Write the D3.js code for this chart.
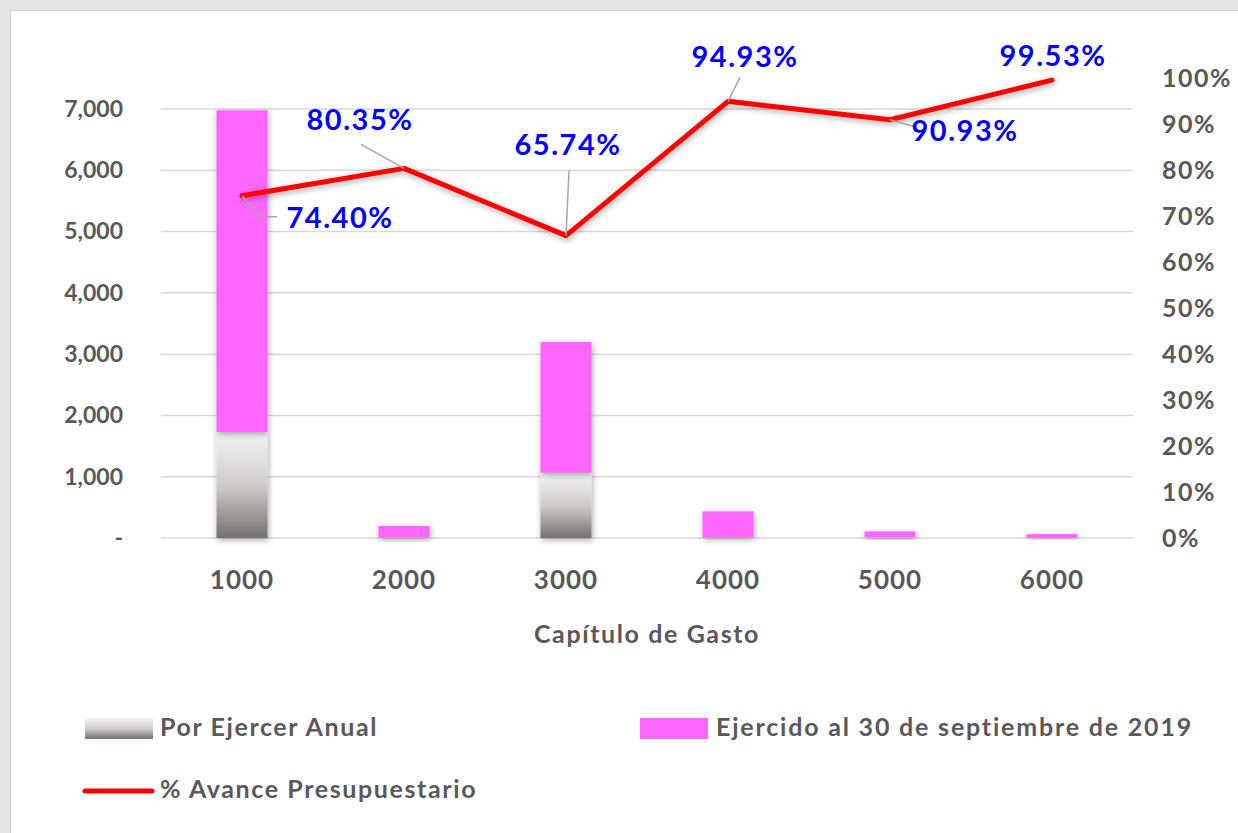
<!DOCTYPE html>
<html>
<head>
<meta charset="utf-8">
<script src="https://cdn.jsdelivr.net/npm/d3@7"></script>
<style>
  body { margin: 0; background: #e4e4e4; }
  svg { display: block; }
  text { font-family: Lato, "Open Sans", sans-serif; font-weight: bold; }
</style>
</head>
<body>
<div id="chart"></div>
<script>
// datos
const capitulos = ["1000", "2000", "3000", "4000", "5000", "6000"];
const porEjercer = [1730, 6, 1065, 10, 8, 1];
const ejercido = [5250, 190, 2135, 424, 100, 62];
const avance = [74.40, 80.35, 65.74, 94.93, 90.93, 99.53];
const leftTicks = [0, 1000, 2000, 3000, 4000, 5000, 6000, 7000];
const rightTicks = [0, 10, 20, 30, 40, 50, 60, 70, 80, 90, 100];
// posicion de etiquetas relativa al punto [dx, dy] y quiebre de la guia
const labelPos = [
  { dx: 98, dy: 25, lead: [[0, 0], [18, 21], [35, 21]] },
  { dx: -44, dy: -46, lead: [[0, 0], [-43, -24]] },
  { dx: 2, dy: -88, lead: [[0, 0], [3, -65]] },
  { dx: 17, dy: -42, lead: [[0, 0], [12, -24]] },
  { dx: 75, dy: 14, lead: [[0, 0], [25, 7]] },
  { dx: 1, dy: -22, lead: null }
];

const W = 1238, H = 833;
const margins = { top: 78, right: 105, bottom: 295, left: 161 };
const plotBottom = 538;
const gris = "#595959";

const svg = d3.select("#chart").append("svg")
  .attr("width", W).attr("height", H);

const defs = svg.append("defs");
const grad = defs.append("linearGradient")
  .attr("id", "grisGrad").attr("x1", 0).attr("y1", 0).attr("x2", 0).attr("y2", 1);
grad.append("stop").attr("offset", "0%").attr("stop-color", "#f4f4f4");
grad.append("stop").attr("offset", "50%").attr("stop-color", "#cfcccc");
grad.append("stop").attr("offset", "100%").attr("stop-color", "#767171");

const shadow = defs.append("filter").attr("id", "sombra")
  .attr("x", "-30%").attr("y", "-30%").attr("width", "160%").attr("height", "160%");
shadow.append("feDropShadow").attr("dx", 1).attr("dy", 2)
  .attr("stdDeviation", 3).attr("flood-color", "#000").attr("flood-opacity", 0.35);

// panel blanco
svg.append("rect")
  .attr("x", 10.5).attr("y", 10.5).attr("width", W).attr("height", H)
  .attr("fill", "#fff").attr("stroke", "#d0d0d0");

const x_scale = d3.scaleBand()
  .domain(capitulos)
  .range([margins.left, W - margins.right])
  .paddingInner(0.685).paddingOuter(0.3425);

const y_scale = d3.scaleLinear().domain([0, 7000]).range([plotBottom, 109]);
const y2_scale = d3.scaleLinear().domain([0, 100]).range([plotBottom, margins.top]);

const estiloTexto = (sel, size, spacing) => sel
  .attr("font-size", size).attr("fill", gris)
  .attr("letter-spacing", spacing)
  .attr("font-family", "Lato, sans-serif").attr("font-weight", "bold");

// rejilla
svg.append("g").selectAll("line")
  .data(leftTicks)
  .join("line")
  .attr("x1", margins.left).attr("x2", W - margins.right)
  .attr("y1", d => y_scale(d)).attr("y2", d => y_scale(d))
  .attr("stroke", "#d9d9d9").attr("stroke-width", 1.5);

// eje izquierdo
const y_axis = d3.axisLeft(y_scale).tickValues(leftTicks).tickSize(0).tickPadding(0)
  .tickFormat(d => d === 0 ? "-" : d3.format(",")(d));
svg.append("g").attr("class", "y axis")
  .attr("transform", "translate(123,0)")
  .call(y_axis)
  .call(g => g.select(".domain").remove())
  .selectAll("text").call(estiloTexto, 23, 0);

// eje derecho
const y2_axis = d3.axisRight(y2_scale).tickValues(rightTicks).tickSize(0).tickPadding(0)
  .tickFormat(d => d + "%");
svg.append("g").attr("class", "y2 axis")
  .attr("transform", "translate(1162,0)")
  .call(y2_axis)
  .call(g => g.select(".domain").remove())
  .selectAll("text").call(estiloTexto, 25, 1.5);

// eje x
const x_axis = d3.axisBottom(x_scale).tickSize(0).tickPadding(0);
svg.append("g").attr("class", "x axis")
  .attr("transform", `translate(0,${plotBottom + 33})`)
  .call(x_axis)
  .call(g => g.select(".domain").remove())
  .selectAll("text").call(estiloTexto, 26, 1);

svg.append("text")
  .attr("x", (margins.left + W - margins.right) / 2).attr("y", 643)
  .attr("text-anchor", "middle")
  .call(estiloTexto, 25, 1.6)
  .text("Capítulo de Gasto");

// barras apiladas
const filas = capitulos.map((c, i) => ({ cap: c, porEjercer: porEjercer[i], ejercido: ejercido[i] }));
const stack = d3.stack().keys(["porEjercer", "ejercido"])(filas);
const colores = { porEjercer: "url(#grisGrad)", ejercido: "#ff66ff" };

svg.append("g").attr("class", "bars")
  .selectAll("g")
  .data(stack)
  .join("g")
  .attr("fill", d => colores[d.key])
  .selectAll("rect")
  .data(d => d)
  .join("rect")
  .attr("x", d => x_scale(d.data.cap))
  .attr("width", x_scale.bandwidth())
  .attr("y", d => y_scale(d[1]))
  .attr("height", d => y_scale(d[0]) - y_scale(d[1]))
  .attr("filter", "url(#sombra)");

// linea de avance
const puntos = capitulos.map((c, i) => [x_scale(c) + x_scale.bandwidth() / 2, y2_scale(avance[i])]);
const line = d3.line();
svg.append("path")
  .attr("class", "line_chart")
  .attr("d", line(puntos))
  .attr("fill", "none").attr("stroke", "#ff0000").attr("stroke-width", 5)
  .attr("stroke-linejoin", "round").attr("stroke-linecap", "round")
  .attr("filter", "url(#sombra)");

// guias y etiquetas
const etiquetas = svg.append("g").attr("class", "labels");
puntos.forEach((p, i) => {
  const lp = labelPos[i];
  if (lp.lead) {
    etiquetas.append("path")
      .attr("d", line(lp.lead.map(q => [p[0] + q[0], p[1] + q[1]])))
      .attr("fill", "none").attr("stroke", "#a6a6a6").attr("stroke-width", 1.5);
  }
  etiquetas.append("text")
    .attr("x", p[0] + lp.dx).attr("y", p[1] + lp.dy)
    .attr("text-anchor", "middle").attr("dominant-baseline", "middle")
    .attr("font-size", 29).attr("letter-spacing", 1.5).attr("fill", "#0000ff")
    .text(d3.format(".2f")(avance[i]) + "%");
});

// leyenda
const leg = svg.append("g").attr("class", "legend");
leg.append("rect").attr("x", 85).attr("y", 718).attr("width", 68).attr("height", 21)
  .attr("fill", "url(#grisGrad)");
leg.append("text").attr("x", 160).attr("y", 730).attr("dominant-baseline", "middle")
  .call(estiloTexto, 25, 1.6).text("Por Ejercer Anual");
leg.append("rect").attr("x", 640).attr("y", 718).attr("width", 68).attr("height", 21)
  .attr("fill", "#ff66ff");
leg.append("text").attr("x", 716).attr("y", 730).attr("dominant-baseline", "middle")
  .call(estiloTexto, 25, 1.8).text("Ejercido al 30 de septiembre de 2019");
leg.append("line").attr("x1", 85).attr("x2", 152).attr("y1", 791).attr("y2", 791)
  .attr("stroke", "#ff0000").attr("stroke-width", 5).attr("stroke-linecap", "round");
leg.append("text").attr("x", 160).attr("y", 792).attr("dominant-baseline", "middle")
  .call(estiloTexto, 25, 1.6).text("% Avance Presupuestario");
</script>
</body>
</html>
